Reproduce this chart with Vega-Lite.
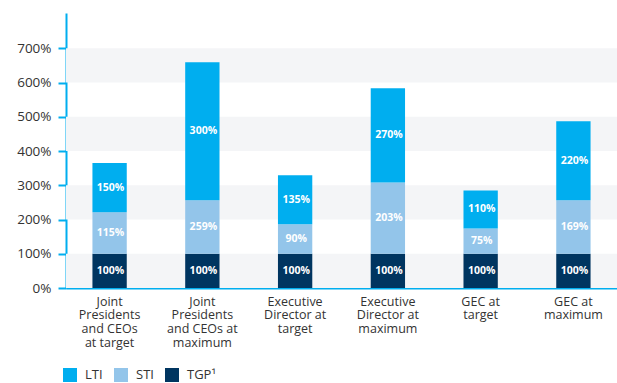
{
  "$schema": "https://vega.github.io/schema/vega-lite/v6.json",
  "width": 551,
  "height": 275,
  "autosize": {"type": "none"},
  "padding": {"left": 66, "top": 13, "right": 0, "bottom": 95},
  "background": "white",
  "config": {
    "view": {"stroke": null},
    "font": "Open Sans",
    "axisY": {
      "title": null, "grid": false,
      "domainColor": "#00AEEF", "domainWidth": 2,
      "tickColor": "#00AEEF", "tickWidth": 2, "tickSize": 8,
      "labelFontSize": 13.5, "labelColor": "#333333", "labelPadding": 7
    },
    "axisX": {
      "title": null, "labelAngle": 0, "ticks": false,
      "domainColor": "#00AEEF", "domainWidth": 2,
      "labelFontSize": 12.5, "labelColor": "#333333", "labelPadding": 7,
      "labelLineHeight": 13.8, "labelBaseline": "top"
    }
  },
  "resolve": {"axis": {"y": "independent", "x": "independent"}},
  "datasets": {
    "pay": [
      {"role": "Joint\nPresidents\nand CEOs\nat target", "component": "TGP¹", "value": 100, "label": "100%"},
      {"role": "Joint\nPresidents\nand CEOs\nat target", "component": "STI", "value": 121, "label": "115%"},
      {"role": "Joint\nPresidents\nand CEOs\nat target", "component": "LTI", "value": 144, "label": "150%"},
      {"role": "Joint\nPresidents\nand CEOs at\nmaximum", "component": "TGP¹", "value": 100, "label": "100%"},
      {"role": "Joint\nPresidents\nand CEOs at\nmaximum", "component": "STI", "value": 156, "label": "259%"},
      {"role": "Joint\nPresidents\nand CEOs at\nmaximum", "component": "LTI", "value": 403, "label": "300%"},
      {"role": "Executive\nDirector at\ntarget", "component": "TGP¹", "value": 100, "label": "100%"},
      {"role": "Executive\nDirector at\ntarget", "component": "STI", "value": 86, "label": "90%"},
      {"role": "Executive\nDirector at\ntarget", "component": "LTI", "value": 143, "label": "135%"},
      {"role": "Executive\nDirector at\nmaximum", "component": "TGP¹", "value": 100, "label": "100%"},
      {"role": "Executive\nDirector at\nmaximum", "component": "STI", "value": 208, "label": "203%"},
      {"role": "Executive\nDirector at\nmaximum", "component": "LTI", "value": 275, "label": "270%"},
      {"role": "GEC at\ntarget", "component": "TGP¹", "value": 100, "label": "100%"},
      {"role": "GEC at\ntarget", "component": "STI", "value": 74, "label": "75%"},
      {"role": "GEC at\ntarget", "component": "LTI", "value": 111, "label": "110%"},
      {"role": "GEC at\nmaximum", "component": "TGP¹", "value": 100, "label": "100%"},
      {"role": "GEC at\nmaximum", "component": "STI", "value": 156, "label": "169%"},
      {"role": "GEC at\nmaximum", "component": "LTI", "value": 231, "label": "220%"}
    ],
    "bands": [{"from": 0, "to": 100}, {"from": 200, "to": 300}, {"from": 400, "to": 500}, {"from": 600, "to": 700}]
  },
  "layer": [
    {
      "data": {"name": "bands"},
      "mark": {"type": "rect", "color": "#F4F5F7"},
      "encoding": {
        "y": {
          "field": "from", "type": "quantitative",
          "scale": {"domain": [0, 803], "nice": false},
          "axis": null
        },
        "y2": {"field": "to"}
      }
    },
    {
      "data": {"name": "pay"},
      "transform": [
        {"stack": "value", "groupby": ["role"], "sort": [{"field": "component", "order": "descending"}], "as": ["v0", "v1"]}
      ],
      "mark": {"type": "bar"},
      "encoding": {
        "x": {
          "field": "role", "type": "nominal", "sort": null,
          "scale": {"paddingInner": 0.63, "paddingOuter": 0.285},
          "axis": {"labelExpr": "split(datum.value, '\\n')"}
        },
        "y": {
          "field": "v0", "type": "quantitative",
          "scale": {"domain": [0, 803], "nice": false},
          "axis": {"orient": "left", "values": [0, 100, 200, 300, 400, 500, 600, 700], "labelExpr": "datum.value + '%'"}
        },
        "y2": {"field": "v1"},
        "color": {
          "field": "component", "type": "nominal",
          "scale": {"domain": ["LTI", "STI", "TGP¹"], "range": ["#00AEEF", "#93C5EA", "#003560"]},
          "legend": {
            "title": null, "orient": "none", "direction": "horizontal",
            "legendX": -3, "legendY": 355,
            "symbolType": "square", "symbolSize": 196, "symbolStrokeWidth": 0,
            "labelFontSize": 13, "labelColor": "#333333", "labelOffset": 8,
            "columnPadding": 11
          }
        }
      }
    },
    {
      "data": {"name": "pay"},
      "transform": [
        {"stack": "value", "groupby": ["role"], "sort": [{"field": "component", "order": "descending"}], "as": ["v0", "v1"]},
        {"calculate": "(datum.v0 + datum.v1) / 2", "as": "mid"}
      ],
      "mark": {"type": "text", "color": "white", "fontWeight": "bold", "fontSize": 10.5, "baseline": "middle", "align": "center", "dx": 1},
      "encoding": {
        "x": {"field": "role", "type": "nominal", "sort": null, "axis": null},
        "y": {"field": "mid", "type": "quantitative", "axis": null},
        "text": {"field": "label", "type": "nominal"}
      }
    }
  ]
}
